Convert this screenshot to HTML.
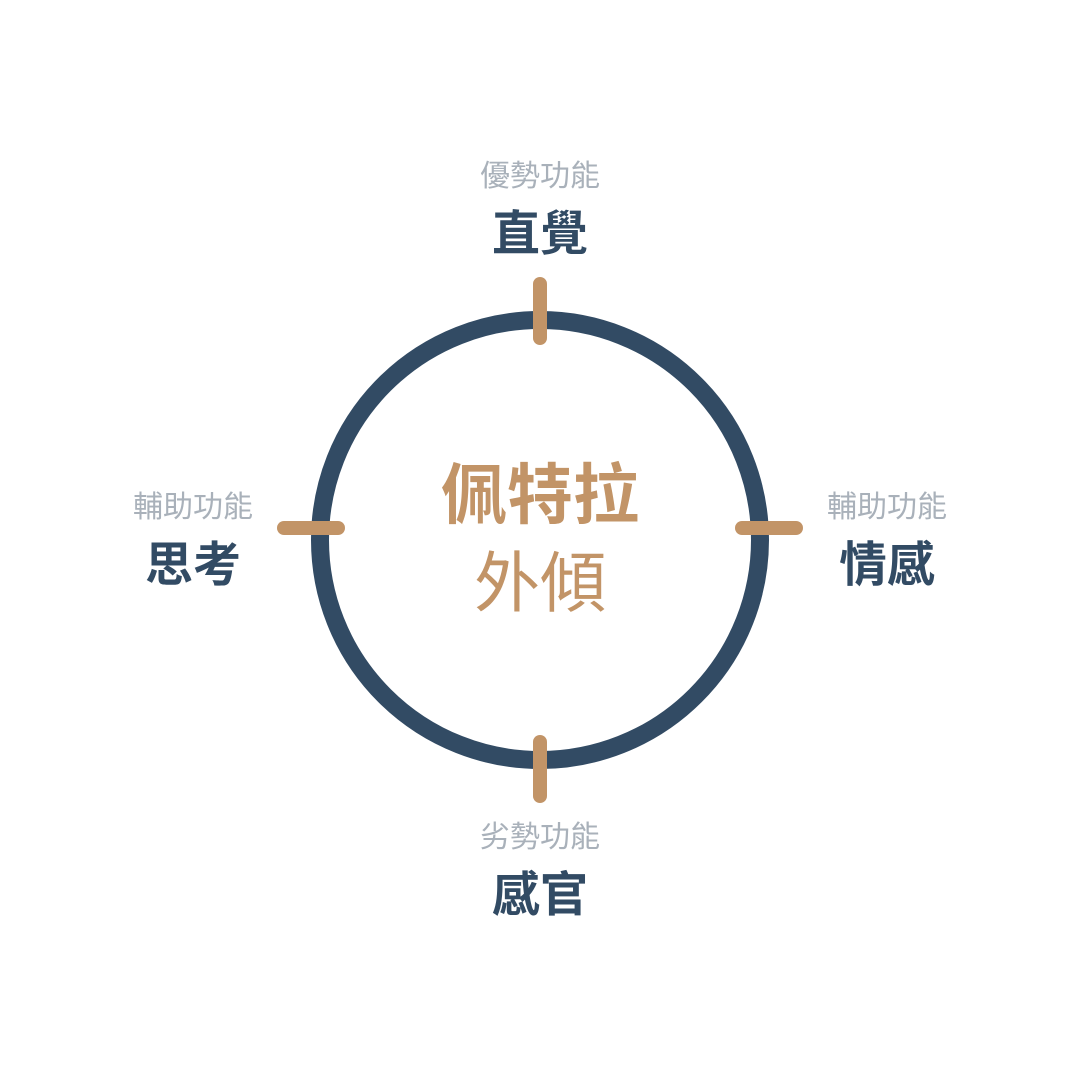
<!DOCTYPE html>
<html><head><meta charset="utf-8"><style>
html,body{margin:0;padding:0;background:#fff;}
svg{display:block;}
text{font-family:"Liberation Sans","Noto Sans CJK TC",sans-serif;text-anchor:middle;}
.s{fill:#a9b1ba;font-size:30px;}
.b{fill:#324b64;font-size:48px;font-weight:bold;}
</style></head><body>
<svg width="1080" height="1080" viewBox="0 0 1080 1080">
<circle cx="540" cy="540" r="220" fill="none" stroke="#324b64" stroke-width="18"/>
<g stroke="#c29467" stroke-width="14" stroke-linecap="round">
<line x1="540" y1="284" x2="540" y2="338"/>
<line x1="540" y1="742" x2="540" y2="796"/>
<line x1="284" y1="528" x2="338" y2="528"/>
<line x1="742" y1="528" x2="796" y2="528"/>
</g>
<text class="s" x="540" y="186">優勢功能</text>
<text class="b" x="540" y="250">直覺</text>
<text class="s" x="540" y="847">劣勢功能</text>
<text class="b" x="540" y="911">感官</text>
<text class="s" x="193" y="517">輔助功能</text>
<text class="b" x="193" y="581">思考</text>
<text class="s" x="887" y="517">輔助功能</text>
<text class="b" x="887" y="581">情感</text>
<text x="540" y="518" style="fill:#c29467;font-size:66px;font-weight:bold">佩特拉</text>
<text x="540" y="606" style="fill:#c29467;font-size:66px">外傾</text>
</svg>
</body></html>
